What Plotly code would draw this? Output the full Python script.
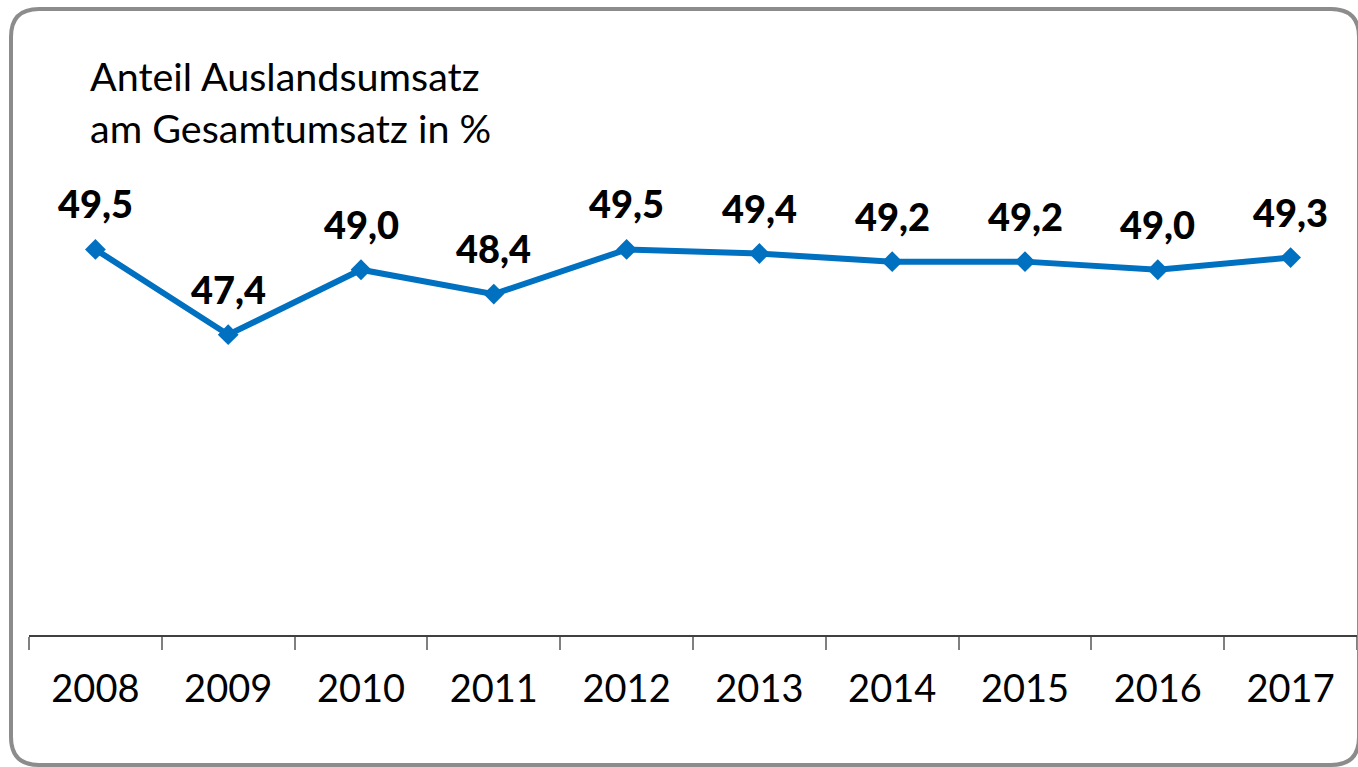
import plotly.graph_objects as go

years = ["2008", "2009", "2010", "2011", "2012", "2013", "2014", "2015", "2016", "2017"]
values = [49.5, 47.4, 49.0, 48.4, 49.5, 49.4, 49.2, 49.2, 49.0, 49.3]
labels = ["49,5", "47,4", "49,0", "48,4", "49,5", "49,4", "49,2", "49,2", "49,0", "49,3"]
title_lines = ["Anteil Auslandsumsatz", "am Gesamtumsatz in %"]

W, H = 1358, 767
L, R, T, B = 29, 1, 148, 132
PW, PH = W - L - R, H - T - B

def px(x):
    return (x - L) / PW

def py(y):
    return (H - B - y) / PH

BLUE = "#0070C0"
FONT = "Lato"

fig = go.Figure()
fig.add_trace(go.Scatter(
    x=years, y=values, mode="lines+markers",
    line=dict(color=BLUE, width=6),
    marker=dict(symbol="diamond", size=16, color=BLUE),
    hoverinfo="skip", showlegend=False,
))

annotations = []
for i, (v, lab) in enumerate(zip(values, labels)):
    annotations.append(dict(
        x=i, y=v, xref="x", yref="y", text=lab, showarrow=False,
        yanchor="middle", xanchor="center", yshift=46,
        font=dict(family=FONT, size=38, color="#000000", weight=900),
    ))

for line, base in zip(title_lines, [88, 140]):
    annotations.append(dict(
        x=px(88), y=py(base - 13), xref="paper", yref="paper", text=line,
        showarrow=False, xanchor="left", yanchor="middle", align="left",
        font=dict(family=FONT, size=39.5, color="#000000"),
    ))

# rounded border
x0, x1 = px(11), px(1359)
yt, yb = py(9), py(765)
rx, ry = 28 / PW, 28 / PH
path = (f"M {x0+rx},{yt} L {x1-rx},{yt} Q {x1},{yt} {x1},{yt-ry} "
        f"L {x1},{yb+ry} Q {x1},{yb} {x1-rx},{yb} L {x0+rx},{yb} "
        f"Q {x0},{yb} {x0},{yb+ry} L {x0},{yt-ry} Q {x0},{yt} {x0+rx},{yt} Z")

fig.update_layout(
    width=W, height=H,
    margin=dict(l=L, r=R, t=T, b=B),
    paper_bgcolor="white", plot_bgcolor="white",
    annotations=annotations,
    shapes=[dict(type="path", path=path, xref="paper", yref="paper",
                 line=dict(color="#8c8c8c", width=4), layer="above")],
    xaxis=dict(
        type="category", range=[-0.5, 9.5], autorange=False,
        categoryorder="array", categoryarray=years,
        showgrid=False, zeroline=False,
        showline=True, linecolor="#404040", linewidth=1.5,
        ticks="outside", tickson="boundaries", ticklen=13,
        tickcolor="#808080", tickwidth=1.5, tickangle=0,
        tickfont=dict(family=FONT, size=38, color="#000000"),
        ticklabelstandoff=20,
    ),
    yaxis=dict(range=[40, 52], autorange=False, visible=False, showgrid=False),
)

fig.write_html("out.html")
